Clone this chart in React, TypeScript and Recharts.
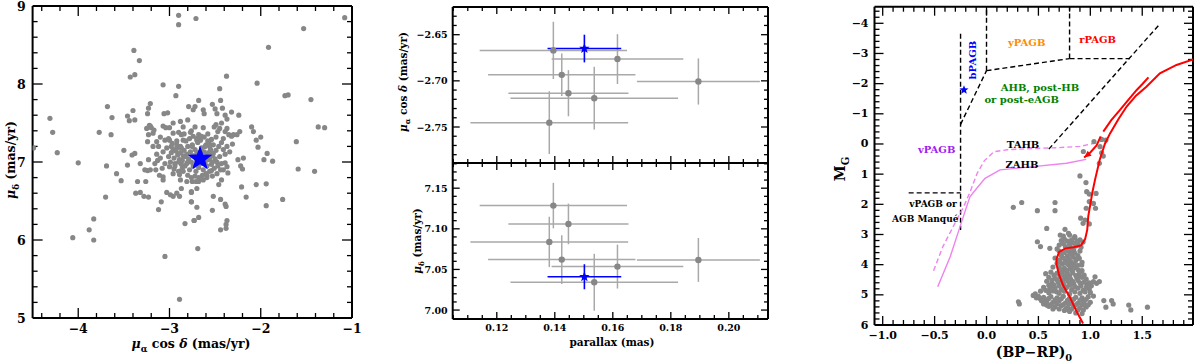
import React from 'react'
import {
  ErrorBar,
  ReferenceDot,
  ReferenceLine,
  Scatter,
  ScatterChart,
  XAxis,
  YAxis,
} from 'recharts'

type Pt = [number, number]

const SERIF = '"DejaVu Serif", "Liberation Serif", serif'
const GREY = '#878787'
const BAR_GREY = '#a9a9a9'
const BLUE = '#0000ff'
const VIOLET = '#ee82ee'

// ---------- left panel: proper motions of the field stars (pmra, pmdec)
const fieldPM: Pt[] = [
  [-4.49, 7.18], [-4.31, 7.56], [-4.28, 7.38], [-4.23, 7.12], [-4.0, 6.99], [-4.06, 6.03],
  [-3.88, 6.13], [-3.83, 6.27], [-3.83, 6.0], [-3.77, 7.38], [-3.7, 6.55], [-3.68, 7.71],
  [-3.69, 6.95], [-3.63, 7.57], [-3.64, 7.35], [-3.58, 6.85], [-3.53, 6.76], [-3.5, 7.15],
  [-3.46, 7.59], [-3.46, 6.96], [-3.44, 7.53], [-3.4, 7.66], [-3.38, 7.54], [-3.43, 8.09],
  [-3.38, 8.12], [-3.39, 8.43], [-3.33, 8.3], [-3.41, 7.09], [-3.38, 7.11], [-3.35, 6.75],
  [-3.37, 6.6], [-3.32, 6.61], [-3.28, 6.56], [-3.23, 6.55], [-3.32, 6.98], [-3.27, 6.9],
  [-3.24, 6.89], [-3.23, 7.03], [-3.21, 6.9], [-3.15, 6.9], [-3.26, 6.75], [-3.11, 6.83],
  [-3.07, 6.77], [-3.24, 7.62], [-3.23, 7.69], [-3.21, 7.75], [-3.06, 7.62], [-3.02, 7.63],
  [-3.07, 7.99], [-2.9, 7.97], [-2.93, 7.85], [-2.79, 7.71], [-2.88, 7.52], [-2.8, 7.54],
  [-2.74, 7.67], [-3.22, 7.47], [-3.2, 7.44], [-3.17, 7.41], [-3.07, 7.46], [-3.04, 7.44],
  [-3.0, 7.44], [-2.96, 7.5], [-2.85, 7.45], [-3.25, 7.43], [-3.21, 7.46], [-3.18, 7.37],
  [-3.23, 7.35], [-3.24, 7.26], [-3.14, 7.26], [-3.1, 7.32], [-3.05, 7.28], [-3.01, 7.3],
  [-2.96, 7.37], [-2.9, 7.38], [-2.87, 7.35], [-2.85, 7.28], [-2.88, 7.2], [-2.92, 7.18],
  [-2.98, 7.2], [-3.03, 7.18], [-3.07, 7.13], [-3.12, 7.2], [-3.18, 7.2], [-3.01, 7.07],
  [-3.05, 6.98], [-3.0, 6.94], [-2.94, 6.98], [-2.89, 7.03], [-2.83, 7.07], [-2.81, 6.98],
  [-2.86, 6.92], [-2.9, 6.88], [-2.95, 6.91], [-3.07, 6.81], [-2.88, 6.77], [-2.81, 6.75],
  [-2.87, 6.66], [-2.92, 6.6], [-2.89, 6.56], [-3.03, 6.61], [-2.99, 6.58], [-2.96, 6.56],
  [-3.09, 6.49], [-3.12, 6.39], [-2.76, 6.61], [-2.76, 6.49], [-2.73, 6.25], [-2.83, 6.21],
  [-3.05, 5.79], [-2.9, 8.88], [-2.9, 8.76], [-2.89, 5.24], [-2.71, 8.84],
  [-2.72, 7.71], [-2.68, 7.79], [-2.63, 7.67], [-2.62, 7.62], [-2.53, 7.74], [-2.5, 7.68],
  [-2.44, 7.79], [-2.45, 7.94], [-2.375, 8.1], [-2.42, 7.69], [-2.48, 7.62], [-2.39, 7.6],
  [-2.37, 7.55], [-2.32, 7.64], [-2.24, 7.6], [-2.43, 7.5], [-2.49, 7.48], [-2.51, 7.45],
  [-2.45, 7.43], [-2.37, 7.43], [-2.39, 7.39], [-2.47, 7.39], [-2.63, 7.44], [-2.72, 7.45],
  [-2.76, 7.4], [-2.68, 7.35], [-2.65, 7.33], [-2.58, 7.36], [-2.54, 7.29], [-2.49, 7.32],
  [-2.56, 7.23], [-2.61, 7.2], [-2.7, 7.28], [-2.75, 7.2], [-2.41, 7.3], [-2.35, 7.35],
  [-2.32, 7.33], [-2.31, 7.23], [-2.37, 7.2], [-2.41, 7.16], [-2.34, 7.13], [-2.39, 7.1],
  [-2.45, 7.07], [-2.52, 7.11], [-2.56, 7.05], [-2.48, 7.0], [-2.43, 6.98], [-2.39, 6.99],
  [-2.37, 6.94], [-2.41, 6.9], [-2.36, 6.86], [-2.48, 6.85], [-2.54, 6.89], [-2.59, 6.83],
  [-2.63, 6.77], [-2.68, 6.75], [-2.75, 6.75], [-2.43, 6.77], [-2.46, 6.71], [-2.7, 6.66],
  [-2.76, 6.62], [-2.52, 6.56], [-2.44, 6.52], [-2.39, 6.46], [-2.38, 6.43], [-2.53, 6.38],
  [-2.7, 6.42], [-2.76, 6.49], [-2.68, 6.29], [-2.73, 6.25], [-2.37, 6.25], [-2.38, 6.2],
  [-2.38, 6.15], [-2.44, 6.13], [-2.69, 5.89], [-2.25, 7.03], [-2.22, 6.95], [-2.2, 6.91],
  [-2.19, 7.05], [-2.26, 7.35], [-2.23, 7.39], [-2.3, 7.35], [-2.21, 6.68], [-2.16, 6.55],
  [-2.1, 7.45], [-2.08, 7.39], [-2.05, 7.28], [-2.03, 7.19], [-2.0, 7.32], [-1.965, 7.03],
  [-1.93, 7.11], [-1.87, 7.01], [-2.04, 8.01], [-1.915, 8.47], [-2.05, 6.71], [-1.94, 6.72],
  [-1.94, 6.44], [-1.76, 6.52], [-1.735, 7.85], [-1.7, 7.86], [-1.61, 7.26], [-1.59, 6.91],
  [-1.53, 8.71], [-1.45, 7.8], [-1.41, 6.88], [-1.37, 7.45], [-1.3, 7.44], [-1.08, 8.85],
  [-2.98, 7.12], [-2.95, 7.05], [-2.93, 7.14], [-2.91, 7.09], [-2.88, 7.12], [-2.86, 7.02],
  [-2.84, 7.15], [-2.83, 6.95], [-2.81, 7.1], [-2.8, 7.2], [-2.79, 7.04], [-2.78, 6.9],
  [-2.77, 7.13], [-2.76, 7.0], [-2.75, 7.22], [-2.74, 6.95], [-2.73, 7.08], [-2.72, 7.16],
  [-2.71, 6.88], [-2.7, 7.02], [-2.69, 7.25], [-2.68, 6.93], [-2.67, 7.12], [-2.66, 6.98],
  [-2.65, 7.18], [-2.64, 7.06], [-2.63, 6.9], [-2.62, 7.13], [-2.61, 7.0], [-2.6, 7.22],
  [-2.59, 6.95], [-2.58, 7.1], [-2.57, 7.03], [-2.56, 6.88], [-2.55, 7.16], [-2.54, 6.97],
  [-2.53, 7.08], [-2.52, 7.22], [-2.51, 6.92], [-2.5, 7.04], [-2.97, 7.24], [-2.94, 6.95],
  [-2.92, 7.27], [-2.89, 6.84], [-2.87, 7.18], [-2.85, 6.88], [-2.82, 7.27], [-2.8, 6.83],
  [-2.78, 7.3], [-2.76, 6.8], [-2.74, 7.33], [-2.72, 6.82], [-2.7, 7.3], [-2.68, 6.8],
  [-2.66, 7.28], [-2.64, 6.83], [-2.62, 7.32], [-2.6, 6.85], [-2.58, 7.27], [-2.56, 7.2],
  [-2.99, 7.0], [-2.96, 6.85], [-3.0, 7.28], [-2.84, 7.36], [-2.77, 7.38], [-2.71, 6.75],
  [-2.65, 6.78], [-2.59, 6.8], [-2.53, 6.82], [-2.49, 7.15], [-2.47, 6.95], [-2.46, 7.2],
  [-2.44, 6.9], [-2.43, 7.25], [-2.96, 7.16], [-2.9, 7.0], [-2.85, 7.08], [-2.8, 7.0],
  [-2.75, 7.08], [-2.7, 7.12], [-2.63, 7.0], [-2.57, 7.12], [-2.53, 7.0], [-2.92, 7.22],
  [-2.87, 6.97], [-3.1, 7.05], [-3.14, 7.1], [-3.16, 6.98], [-3.08, 6.92], [-3.13, 7.02],
]

// the post-AGB candidate
const targetPmra = -2.665
const targetPmraErr = 0.015
const targetPmdec = 7.041
const targetPmdecErr = 0.0154
const targetPlx = 0.1502
const targetPlxErr = 0.0127

// ---------- middle panels: cluster members with errors
const memberPlx = [0.1395, 0.1424, 0.1447, 0.1381, 0.1536, 0.1616, 0.1895]
const memberPlxErr = [0.0254, 0.0254, 0.0207, 0.0272, 0.0289, 0.0227, 0.0212]
const memberPmra = [-2.667, -2.6935, -2.7134, -2.7453, -2.7188, -2.6764, -2.7007]
const memberPmraErr = [0.031, 0.023, 0.025, 0.034, 0.034, 0.027, 0.025]
const memberPmdec = [7.1286, 7.0621, 7.106, 7.0839, 7.0342, 7.0535, 7.0617]
const memberPmdecErr = [0.028, 0.03, 0.025, 0.031, 0.035, 0.027, 0.027]

// ---------- right panel: colour-magnitude diagram
const cmdStars: Pt[] = [
  [1.035, -0.08], [1.109, -0.15], [1.15, -0.13], [1.093, 0.09], [1.109, 0.29], [1.125, 0.4],
  [1.087, 0.64], [0.933, 0.25], [0.9, 1.06], [0.958, 1.28], [0.965, 1.58], [0.99, 1.66],
  [1.055, 1.64], [0.99, 1.91], [1.03, 1.97], [0.96, 2.13], [1.05, 2.13], [0.907, 2.46],
  [0.95, 2.52], [0.93, 2.63], [0.99, 2.65], [0.258, 2.1], [0.339, 1.94], [0.49, 2.21],
  [0.66, 1.94], [0.66, 2.21], [0.58, 2.8], [0.756, 2.83], [0.49, 3.24], [0.52, 3.4],
  [0.61, 3.46], [0.307, 5.23], [0.316, 5.3], [1.13, 5.19], [1.205, 5.19], [1.15, 5.41],
  [1.22, 5.3], [1.37, 5.34], [1.39, 5.5], [1.55, 5.41], [1.03, 4.56], [1.087, 4.56],
  [1.045, 4.4], [0.894, 3.79], [0.917, 4.01], [0.885, 4.18], [0.885, 4.4], [0.64, 4.71],
  [0.675, 4.9], [0.47, 4.97], [0.515, 5.12], [0.58, 5.34], [0.933, 5.5], [0.95, 5.34],
  [0.74, 3.05], [0.8, 3.02], [0.85, 3.1], [0.9, 3.18], [0.72, 3.2], [0.78, 3.22],
  [0.83, 3.28], [0.88, 3.3], [0.93, 3.25], [0.7, 3.35], [0.76, 3.4], [0.82, 3.45],
  [0.86, 3.38], [0.91, 3.42], [0.68, 3.48], [0.7, 3.55], [0.75, 3.6], [0.8, 3.58],
  [0.85, 3.62], [0.9, 3.55], [0.72, 3.7], [0.78, 3.72], [0.83, 3.75], [0.88, 3.7],
  [0.7, 3.85], [0.76, 3.88], [0.81, 3.9], [0.86, 3.86], [0.92, 3.92], [0.73, 3.98],
  [0.79, 4.0], [0.84, 3.97], [0.66, 3.78], [0.68, 3.95], [0.64, 4.08], [0.7, 4.1],
  [0.75, 4.12], [0.8, 4.15], [0.86, 4.1], [0.92, 4.2], [0.62, 4.25], [0.68, 4.28],
  [0.73, 4.25], [0.78, 4.3], [0.83, 4.27], [0.89, 4.32], [0.94, 4.35], [0.6, 4.42],
  [0.66, 4.45], [0.71, 4.4], [0.76, 4.45], [0.81, 4.48], [0.87, 4.44], [0.96, 4.48],
  [0.57, 4.3], [0.58, 4.55], [0.63, 4.6], [0.69, 4.58], [0.74, 4.62], [0.79, 4.57],
  [0.84, 4.63], [0.9, 4.6], [0.97, 4.65], [1.01, 4.7], [0.55, 4.75], [0.61, 4.8],
  [0.66, 4.78], [0.72, 4.82], [0.77, 4.76], [0.82, 4.83], [0.88, 4.78], [0.93, 4.85],
  [0.99, 4.8], [1.06, 4.62], [0.52, 4.88], [0.6, 4.93], [0.7, 4.95], [0.8, 4.97],
  [0.9, 4.95], [1.0, 4.92], [0.45, 5.02], [0.5, 5.05], [0.55, 5.08], [0.62, 5.06],
  [0.68, 5.1], [0.74, 5.05], [0.8, 5.12], [0.86, 5.08], [0.92, 5.1], [0.98, 5.06],
  [1.03, 5.04], [0.53, 5.2], [0.58, 5.22], [0.64, 5.25], [0.7, 5.2], [0.76, 5.27],
  [0.82, 5.23], [0.88, 5.28], [0.94, 5.22], [1.0, 5.25], [0.6, 5.38], [0.66, 5.4],
  [0.72, 5.36], [0.78, 5.42], [0.84, 5.38], [0.9, 5.43], [0.96, 5.4], [0.8, 5.55],
  [0.86, 5.6], [0.92, 5.62], [0.75, 5.52], [0.71, 3.02], [0.79, 2.96], [0.85, 3.07],
  [0.75, 3.15], [0.82, 3.18], [0.87, 3.22], [0.74, 3.3], [0.8, 3.33], [0.78, 3.5],
  [0.84, 3.52], [0.73, 3.62], [0.82, 3.65], [0.87, 3.8], [0.74, 3.78], [0.79, 3.82],
  [0.71, 3.92], [0.77, 3.95], [0.82, 4.05], [0.88, 4.02], [0.72, 4.18], [0.77, 4.2],
  [0.83, 4.2], [0.9, 4.25], [0.65, 4.35], [0.7, 4.32], [0.75, 4.37], [0.8, 4.38],
  [0.86, 4.36], [0.92, 4.42], [0.63, 4.52], [0.68, 4.5], [0.73, 4.53], [0.78, 4.52],
  [0.83, 4.55], [0.88, 4.52], [0.94, 4.58], [0.99, 4.6], [0.6, 4.68], [0.65, 4.68],
  [0.7, 4.7], [0.75, 4.7], [0.8, 4.68], [0.85, 4.72], [0.91, 4.7], [0.96, 4.75],
  [0.57, 4.85], [0.64, 4.87], [0.75, 4.88], [0.85, 4.9], [0.95, 4.9], [0.48, 5.1],
  [0.56, 5.15], [0.6, 5.12], [0.66, 5.17], [0.72, 5.13], [0.78, 5.18], [0.84, 5.15],
  [0.9, 5.18], [0.96, 5.15], [0.55, 5.3], [0.62, 5.32], [0.68, 5.3], [0.74, 5.32],
  [0.8, 5.3], [0.86, 5.33], [0.92, 5.32], [0.98, 5.33], [0.7, 5.47], [0.76, 5.48],
  [0.82, 5.47], [0.88, 5.5], [0.64, 5.47],
]

const isochrone: Pt[] = [
  [0.93, 5.95], [0.86, 5.5], [0.8, 5.06], [0.74, 4.7], [0.7, 4.35], [0.675, 4.0],
  [0.675, 3.8], [0.7, 3.58], [0.76, 3.46], [0.84, 3.42], [0.91, 3.36], [0.95, 3.15],
  [0.97, 2.85], [0.98, 2.4], [1.0, 2.0], [1.02, 1.6], [1.045, 1.19], [1.09, 0.53],
  [1.14, 0.0], [1.19, -0.35], [1.27, -0.82], [1.35, -1.24], [1.44, -1.6], [1.54, -1.9],
  [1.67, -2.34], [1.83, -2.62], [1.99, -2.8],
]
const agbTrack: Pt[] = [
  [1.125, -0.41], [1.2, -0.78], [1.286, -1.13], [1.37, -1.48], [1.447, -1.79], [1.5, -1.98], [1.56, -2.21],
]
const hbTrack: Pt[] = [[1.1, -0.25], [1.06, 0.05], [1.0, 0.28], [0.94, 0.45]]
const tahb: Pt[] = [
  [-0.51, 4.2], [-0.42, 3.4], [-0.3, 2.6], [-0.22, 2.08], [-0.16, 1.6], [-0.09, 0.97],
  [-0.02, 0.55], [0.07, 0.26], [0.2, 0.19], [0.45, 0.15], [0.7, 0.12], [0.9, 0.08], [1.06, -0.04],
]
const zahb: Pt[] = [
  [-0.47, 4.73], [-0.35, 3.74], [-0.255, 2.74], [-0.16, 1.75], [-0.09, 1.45], [-0.014, 1.14],
  [0.13, 0.86], [0.45, 0.75], [0.77, 0.64], [0.96, 0.51],
]
// region boundaries, as [start, end]
const boundaries: [Pt, Pt][] = [
  [[-0.25, -3.65], [-0.25, 2.85]],
  [[-0.75, 1.62], [-0.25, 1.62]],
  [[-0.25, -0.65], [0.0, -2.43]],
  [[0.0, -2.43], [0.0, -4.55]],
  [[0.0, -2.43], [0.8, -2.83]],
  [[0.8, -2.83], [0.8, -4.55]],
  [[0.8, -2.83], [1.38, -2.83]],
  [[0.6, 0.17], [1.67, -3.98]],
]
const targetColour = -0.217
const targetMG = -1.79

const regionNames = ['bPAGB', 'yPAGB', 'rPAGB', 'AHB, post-HB', 'or post-eAGB', 'TAHB', 'ZAHB', 'vPAGB', 'vPAGB or', 'AGB Manqué']
const regionX = [-0.133, 0.387, 1.07, 0.515, 0.339, 0.352, 0.342, -0.48, -0.515, -0.59]
const regionY = [-2.78, -3.35, -3.45, -1.89, -1.46, 0.0, 0.67, 0.17, 1.99, 2.49]
const regionColours = ['#0000ff', '#ff8c00', '#ff0000', '#008000', '#008000', '#000', '#000', '#a020f0', '#000', '#000']

// ---------- helpers
const toXY = (pts: Pt[]) => pts.map(([x, y]) => ({ x, y }))

function steps(from: number, to: number, step: number) {
  const out: number[] = []
  for (let i = 0; from + i * step <= to + 1e-9; i++) out.push(+(from + i * step).toFixed(4))
  return out
}

const withMinus = (s: string) => s.replace('-', '\u2212')
const isIn = (list: number[], v: number) => list.some((m) => Math.abs(m - v) < 1e-6)

type Side = 'bottom' | 'top' | 'left' | 'right'
interface TickStyle {
  major: number
  minor: number
  font: number
  gap: number
  fmt?: (v: number) => string
}

// axis ticks only carry the numbers; the tick marks are drawn by tickBars()
function tickLabel(side: Side, majors: number[], st: TickStyle) {
  return (props: any) => {
    const { x, y, payload } = props
    const v = Number(payload.value)
    if (!st.fmt || !isIn(majors, v)) return <g />
    const common = { fontFamily: SERIF, fontWeight: 'bold', fontSize: st.font, fill: '#000' }
    return side === 'bottom' ? (
      <text x={x} y={y + st.gap} textAnchor="middle" {...common}>
        {st.fmt(v)}
      </text>
    ) : (
      <text x={x - st.gap} y={y} textAnchor="end" dominantBaseline="central" {...common}>
        {st.fmt(v)}
      </text>
    )
  }
}

const FRAME = { stroke: '#000', strokeWidth: 2 }

interface FrameOpts {
  xDomain: [number, number]
  yDomain: [number, number]
  xTicks: number[]
  yTicks: number[]
  xMajor: number[]
  yMajor: number[]
  xStyle: TickStyle
  yStyle: TickStyle
  yReversed?: boolean
  plotW: number
  plotH: number
}

// four 1px axes form the frame; margins are the plot edges minus 1
function frameAxes(o: FrameOpts) {
  const common = {
    type: 'number' as const,
    allowDataOverflow: true,
    interval: 0 as const,
    tickLine: false,
    tickSize: 0,
    tickMargin: 0,
    axisLine: FRAME,
  }
  const noLabel = () => <g />
  return [
    <XAxis key="xb" xAxisId="b" orientation="bottom" dataKey="x" domain={o.xDomain} ticks={o.xTicks}
      tick={tickLabel('bottom', o.xMajor, o.xStyle)} height={1} {...common} />,
    <XAxis key="xt" xAxisId="t" orientation="top" dataKey="x" domain={o.xDomain} ticks={o.xTicks}
      tick={noLabel} height={1} {...common} />,
    <YAxis key="yl" yAxisId="l" orientation="left" dataKey="y" domain={o.yDomain} ticks={o.yTicks}
      reversed={o.yReversed} tick={tickLabel('left', o.yMajor, o.yStyle)} width={1} {...common} />,
    <YAxis key="yr" yAxisId="r" orientation="right" dataKey="y" domain={o.yDomain} ticks={o.yTicks}
      reversed={o.yReversed} tick={noLabel} width={1} {...common} />,
  ]
}

// inward tick marks as one-sided error bars hung on points along the frame
function tickBars(o: FrameOpts) {
  const [xL, xR] = o.xDomain
  const yB = o.yReversed ? o.yDomain[1] : o.yDomain[0]
  const yT = o.yReversed ? o.yDomain[0] : o.yDomain[1]
  const up = yT > yB
  const ly = (px: number) => (Math.abs(yT - yB) * px) / o.plotH
  const lx = (px: number) => (Math.abs(xR - xL) * px) / o.plotW
  const bottom = o.xTicks.map((v) => {
    const L = ly(isIn(o.xMajor, v) ? o.xStyle.major : o.xStyle.minor)
    return { x: v, y: yB, e: up ? [0, L] : [L, 0] }
  })
  const top = o.xTicks.map((v) => {
    const L = ly(isIn(o.xMajor, v) ? o.xStyle.major : o.xStyle.minor)
    return { x: v, y: yT, e: up ? [L, 0] : [0, L] }
  })
  const left = o.yTicks.map((v) => {
    const L = lx(isIn(o.yMajor, v) ? o.yStyle.major : o.yStyle.minor)
    return { x: xL, y: v, e: [0, L] }
  })
  const right = o.yTicks.map((v) => {
    const L = lx(isIn(o.yMajor, v) ? o.yStyle.major : o.yStyle.minor)
    return { x: xR, y: v, e: [L, 0] }
  })
  const sets: [string, any[], 'x' | 'y'][] = [
    ['tb', bottom, 'y'],
    ['tt', top, 'y'],
    ['tl', left, 'x'],
    ['tr', right, 'x'],
  ]
  return sets.map(([key, data, dir]) => (
    <Scatter key={key} {...AX} data={data} shape={noMark} isAnimationActive={false}>
      <ErrorBar dataKey="e" direction={dir} width={0} stroke="#000" strokeWidth={1.3} />
    </Scatter>
  ))
}

function plotMargin(left: number, right: number, top: number, bottom: number) {
  return { left: left - 1, right: 1200 - right - 1, top: top - 1, bottom: 364 - bottom - 1 }
}

function starPoints(cx: number, cy: number, R: number) {
  const r = R * 0.42
  const pts: string[] = []
  for (let i = 0; i < 10; i++) {
    const a = -Math.PI / 2 + (i * Math.PI) / 5
    const rr = i % 2 === 0 ? R : r
    pts.push(`${cx + rr * Math.cos(a)},${cy + rr * Math.sin(a)}`)
  }
  return pts.join(' ')
}

const dot = (r: number) => (p: any) => <circle cx={p.cx} cy={p.cy} r={r} fill={GREY} />
const star = (R: number) => (p: any) => <polygon points={starPoints(p.cx, p.cy, R)} fill={BLUE} />
function noMark() {
  return <g />
}
const arrowHead = (p: any) => {
  // tip at the point, pointing down-left along the track
  const ux = 0.79
  const uy = -0.61
  const L = 7
  const w = 3.2
  const bx = p.cx + ux * L
  const by = p.cy + uy * L
  return (
    <polygon
      points={`${p.cx},${p.cy} ${bx - uy * w},${by + ux * w} ${bx + uy * w},${by - ux * w}`}
      fill="#ff0000"
    />
  )
}

const CHART_POS: React.CSSProperties = { position: 'absolute', left: 0, top: 0 }
const AX = { xAxisId: 'b', yAxisId: 'l' }

// ---------- panels
const fieldFrame: FrameOpts = {
  xDomain: [-4.5, -1],
  yDomain: [5, 9],
  xTicks: steps(-4.4, -1.2, 0.2),
  yTicks: steps(5.2, 8.8, 0.2),
  xMajor: [-4, -3, -2, -1],
  yMajor: [5, 6, 7, 8, 9],
  xStyle: { major: 10, minor: 5, font: 12.5, gap: 15, fmt: (v) => withMinus(String(v)) },
  yStyle: { major: 10, minor: 5, font: 12.5, gap: 7, fmt: (v) => String(v) },
  plotW: 352 - 32.6,
  plotH: 318 - 6,
}

function FieldPanel() {
  return (
    <div style={CHART_POS}>
      <ScatterChart width={1200} height={364} margin={plotMargin(32.6, 352, 6, 318)}>
        {frameAxes({ ...fieldFrame, xTicks: steps(-4.4, -1, 0.2), yTicks: steps(5, 9, 0.2) })}
        {tickBars(fieldFrame)}
        <Scatter {...AX} data={toXY(fieldPM)} shape={dot(2.6)} isAnimationActive={false} />
        <Scatter {...AX} data={[{ x: targetPmra, y: targetPmdec }]} shape={star(13)} isAnimationActive={false} />
      </ScatterChart>
    </div>
  )
}

function ParallaxPanel({ which }: { which: 'pmra' | 'pmdec' }) {
  const top = which === 'pmra'
  const vals = top ? memberPmra : memberPmdec
  const errs = top ? memberPmraErr : memberPmdecErr
  const members = memberPlx.map((p, i) => ({ x: p, y: vals[i], ex: memberPlxErr[i], ey: errs[i] }))
  const target = [
    {
      x: targetPlx,
      y: top ? targetPmra : targetPmdec,
      ex: targetPlxErr,
      ey: top ? targetPmraErr : targetPmdecErr,
    },
  ]
  const frame: FrameOpts = {
    xDomain: [0.1048, 0.2135],
    yDomain: top ? [-2.789, -2.62] : [6.989, 7.181],
    xTicks: steps(0.105, 0.21, 0.005),
    yTicks: top ? steps(-2.78, -2.63, 0.01) : steps(7.0, 7.18, 0.01),
    xMajor: [0.12, 0.14, 0.16, 0.18, 0.2],
    yMajor: top ? [-2.75, -2.7, -2.65] : [7.0, 7.05, 7.1, 7.15],
    xStyle: { major: 7, minor: 4, font: 9.5, gap: 12, fmt: top ? undefined : (v) => v.toFixed(2) },
    yStyle: { major: 7, minor: 4, font: 9.5, gap: 5, fmt: (v) => withMinus(v.toFixed(2)) },
    plotW: 768 - 452.7,
    plotH: 156,
  }
  const margin = top ? plotMargin(452.7, 768, 7, 163) : plotMargin(452.7, 768, 163, 319)
  return (
    <div style={CHART_POS}>
      <ScatterChart width={1200} height={364} margin={margin}>
        {frameAxes(frame)}
        {tickBars(frame)}
        <Scatter {...AX} data={members} shape={dot(3.2)} isAnimationActive={false}>
          <ErrorBar dataKey="ex" direction="x" width={0} stroke={BAR_GREY} strokeWidth={1.5} />
          <ErrorBar dataKey="ey" direction="y" width={0} stroke={BAR_GREY} strokeWidth={1.5} />
        </Scatter>
        <Scatter {...AX} data={target} shape={star(5.5)} isAnimationActive={false}>
          <ErrorBar dataKey="ex" direction="x" width={0} stroke={BLUE} strokeWidth={1.6} />
          <ErrorBar dataKey="ey" direction="y" width={0} stroke={BLUE} strokeWidth={1.6} />
        </Scatter>
      </ScatterChart>
    </div>
  )
}

const cmdFrame: FrameOpts = {
  xDomain: [-1.079, 1.989],
  yDomain: [-4.55, 6],
  xTicks: steps(-1.0, 1.9, 0.1),
  yTicks: steps(-4.4, 5.8, 0.2),
  xMajor: [-1, -0.5, 0, 0.5, 1, 1.5],
  yMajor: [-4, -3, -2, -1, 0, 1, 2, 3, 4, 5, 6],
  xStyle: { major: 9, minor: 5, font: 11, gap: 14, fmt: (v) => withMinus(v.toFixed(1)) },
  yStyle: { major: 9, minor: 5, font: 11, gap: 6, fmt: (v) => withMinus(String(v)) },
  yReversed: true,
  plotW: 1193 - 874.5,
  plotH: 325 - 6.7,
}

function CmdPanel() {
  return (
    <div style={CHART_POS}>
      <ScatterChart width={1200} height={364} margin={plotMargin(874.5, 1193, 6.7, 325)}>
        {frameAxes({ ...cmdFrame, yTicks: steps(-4.4, 6, 0.2) })}
        {tickBars(cmdFrame)}
        {boundaries.map(([a, b], i) => (
          <ReferenceLine
            key={`bd${i}`}
            {...AX}
            segment={[{ x: a[0], y: a[1] }, { x: b[0], y: b[1] }]}
            stroke="#000"
            strokeWidth={1.4}
            strokeDasharray="5 3"
            ifOverflow="visible"
          />
        ))}
        <Scatter {...AX} data={toXY(tahb)} shape={noMark} line={{ stroke: VIOLET, strokeWidth: 1.4, strokeDasharray: '5 3' }} isAnimationActive={false} />
        <Scatter {...AX} data={toXY(zahb)} shape={noMark} line={{ stroke: VIOLET, strokeWidth: 1.4 }} isAnimationActive={false} />
        <Scatter {...AX} data={toXY(cmdStars)} shape={dot(2.6)} isAnimationActive={false} />
        <Scatter {...AX} data={toXY(isochrone)} shape={noMark} line={{ stroke: '#ff0000', strokeWidth: 2 }} isAnimationActive={false} />
        <Scatter {...AX} data={toXY(agbTrack)} shape={noMark} line={{ stroke: '#ff0000', strokeWidth: 2 }} isAnimationActive={false} />
        <Scatter {...AX} data={toXY(hbTrack)} shape={noMark} line={{ stroke: '#ff0000', strokeWidth: 2 }} isAnimationActive={false} />
        <Scatter {...AX} data={toXY(hbTrack.slice(-1))} shape={arrowHead} isAnimationActive={false} />
        <Scatter {...AX} data={[{ x: targetColour, y: targetMG }]} shape={star(4.8)} isAnimationActive={false} />
        {regionNames.map((name, i) => (
          <ReferenceDot
            key={name}
            {...AX}
            x={regionX[i]}
            y={regionY[i]}
            r={0}
            fill="none"
            stroke="none"
            ifOverflow="visible"
            label={{
              value: name,
              position: 'center',
              fill: regionColours[i],
              fontSize: i >= 8 ? 9 : 10,
              fontWeight: 'bold',
              fontFamily: SERIF,
              angle: i === 0 ? -90 : 0,
            }}
          />
        ))}
      </ScatterChart>
    </div>
  )
}

function Title({ x, y, size, rotate, children }: { x: number; y: number; size: number; rotate?: boolean; children: React.ReactNode }) {
  return (
    <div
      style={{
        position: 'absolute',
        left: x,
        top: y,
        transform: `translate(-50%, -50%)${rotate ? ' rotate(-90deg)' : ''}`,
        fontFamily: SERIF,
        fontWeight: 'bold',
        fontSize: size,
        whiteSpace: 'nowrap',
        lineHeight: 1,
      }}
    >
      {children}
    </div>
  )
}

const sub = (s: string) => <sub style={{ fontSize: '0.7em' }}>{s}</sub>

export default function App() {
  return (
    <div style={{ position: 'absolute', left: 0, top: 0, width: 1200, height: 364, background: '#fff', overflow: 'hidden' }}>
      <FieldPanel />
      <ParallaxPanel which="pmra" />
      <ParallaxPanel which="pmdec" />
      <CmdPanel />
      <Title x={191} y={346} size={12.5}>
        <i>μ</i>{sub('α')} cos <i>δ</i> (mas/yr)
      </Title>
      <Title x={13} y={160} size={12.5} rotate>
        <i>μ</i>{sub('δ')} (mas/yr)
      </Title>
      <Title x={405} y={82} size={10.5} rotate>
        <i>μ</i>{sub('α')} cos <i>δ</i> (mas/yr)
      </Title>
      <Title x={419} y={241} size={10.5} rotate>
        <i>μ</i>{sub('δ')} (mas/yr)
      </Title>
      <Title x={612} y={342} size={10.5}>
        parallax (mas)
      </Title>
      <Title x={1034} y={354} size={14}>
        (BP−RP){sub('0')}
      </Title>
      <Title x={842} y={169} size={14.5} rotate>
        M{sub('G')}
      </Title>
    </div>
  )
}
